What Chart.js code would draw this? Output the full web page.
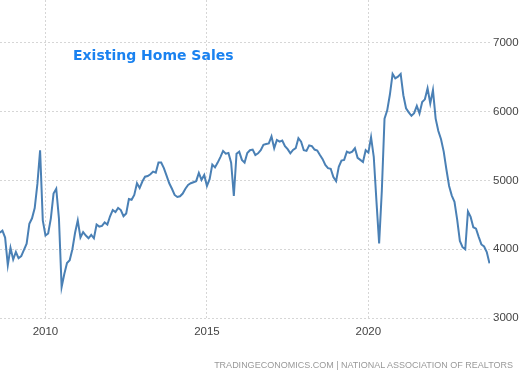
<!DOCTYPE html>
<html>
<head>
<meta charset="utf-8">
<script src="https://cdn.jsdelivr.net/npm/chart.js@4.4.1/dist/chart.umd.min.js"></script>
<style>
    html, body { margin: 0; padding: 0; background: #fff; }
    #wrap { position: relative; width: 525px; height: 376px; }
    #title { position: absolute; left: 73px; top: 47px; font: bold 14px "DejaVu Sans", sans-serif; color: #1a82f0; }
    #source { position: absolute; right: 12px; top: 360px; font: 9px "Liberation Sans", sans-serif; letter-spacing: 0; color: #999; white-space: nowrap; }
</style>
</head>
<body>
<div id="wrap">
    <canvas id="chart" width="525" height="376"></canvas>
    <div id="title">Existing Home Sales</div>
    <div id="source">TRADINGECONOMICS.COM | NATIONAL ASSOCIATION OF REALTORS</div>
</div>
<script>
// --- Data (thousands, SAAR), monthly ---
const firstYear = 2008;
const firstMonth = 8; // series starts Aug 2008
const sales2008 = [4240, 4270, 4170, 3770, 4020];
const sales2009 = [3850, 3960, 3870, 3900, 3990, 4080, 4370, 4450, 4600, 4950, 5440, 4420];
const sales2010 = [4200, 4230, 4450, 4810, 4880, 4450, 3450, 3640, 3800, 3840, 4000, 4240];
const sales2011 = [4420, 4170, 4250, 4200, 4160, 4210, 4160, 4360, 4330, 4340, 4390, 4360];
const sales2012 = [4480, 4570, 4540, 4600, 4570, 4480, 4520, 4730, 4720, 4790, 4960, 4890];
const sales2013 = [4985, 5055, 5065, 5090, 5130, 5115, 5260, 5260, 5180, 5070, 4960, 4880];
const sales2014 = [4790, 4760, 4770, 4810, 4880, 4935, 4960, 4975, 4990, 5110, 5010, 5080];
const sales2015 = [4920, 5020, 5230, 5190, 5260, 5340, 5430, 5390, 5400, 5260, 4775, 5390];
const sales2016 = [5420, 5300, 5260, 5400, 5440, 5450, 5370, 5395, 5440, 5520, 5530, 5540];
const sales2017 = [5640, 5470, 5590, 5565, 5580, 5500, 5455, 5395, 5445, 5470, 5615, 5565];
const sales2018 = [5440, 5430, 5510, 5500, 5450, 5435, 5370, 5310, 5225, 5180, 5170, 5050];
const sales2019 = [4990, 5200, 5290, 5300, 5420, 5400, 5420, 5470, 5330, 5300, 5270, 5440];
const sales2020 = [5405, 5630, 5345, 4700, 4085, 4850, 5900, 6020, 6250, 6550, 6485, 6510];
const sales2021 = [6550, 6240, 6050, 5990, 5940, 5980, 6085, 5975, 6140, 6180, 6340, 6120];
const sales2022 = [6315, 5900, 5720, 5600, 5420, 5160, 4920, 4780, 4690, 4430, 4120, 4030];
const sales2023 = [4000, 4550, 4470, 4320, 4300, 4180, 4070, 4040, 3960, 3795];

const yearTicks = [2010, 2015, 2020];
const valueTicks = [3000, 4000, 5000, 6000, 7000];

// --- Build points: x = months since Jan 2010 ---
const allSales = [].concat(sales2008, sales2009, sales2010, sales2011, sales2012, sales2013,
    sales2014, sales2015, sales2016, sales2017, sales2018, sales2019, sales2020, sales2021,
    sales2022, sales2023);
const offset = (firstYear - 2010) * 12 + (firstMonth - 1);
const points = allSales.map((v, i) => ({ x: offset + i, y: v }));

const grid = { color: '#d6d6d6', lineWidth: 1, drawTicks: false };
const tickFont = { family: '"Liberation Sans", Arial, sans-serif', size: 11.5 };

// no label overhang padding: plot area runs to the canvas edges
function noPad(s) {
    s.paddingTop = 0; s.paddingBottom = 0; s.paddingLeft = 0; s.paddingRight = 0;
}

new Chart(document.getElementById('chart'), {
    type: 'line',
    data: {
        datasets: [{
            data: points,
            borderColor: '#4a80b5',
            borderWidth: 2,
            pointRadius: 0,
            tension: 0
        }]
    },
    options: {
        responsive: false,
        animation: false,
        layout: { padding: 0, autoPadding: false },
        plugins: { legend: { display: false }, tooltip: { enabled: false } },
        scales: {
            x: {
                type: 'linear',
                min: -16.9,
                max: 165.2,
                border: { display: false, dash: [2, 2] },
                grid: grid,
                afterBuildTicks: s => { s.ticks = yearTicks.map(y => ({ value: (y - 2010) * 12 })); },
                afterFit: s => { s.height = 58; noPad(s); },
                ticks: {
                    padding: 7,
                    color: '#444',
                    font: tickFont,
                    maxRotation: 0,
                    callback: v => String(2010 + v / 12)
                }
            },
            y: {
                position: 'right',
                min: 3000,
                max: 7625,
                border: { display: false, dash: [2, 2] },
                grid: grid,
                afterBuildTicks: s => { s.ticks = valueTicks.map(v => ({ value: v })); },
                afterFit: s => { s.width = 35; noPad(s); },
                ticks: {
                    padding: 3,
                    color: '#444',
                    font: tickFont,
                    callback: v => String(v)
                }
            }
        }
    }
});
</script>
</body>
</html>
